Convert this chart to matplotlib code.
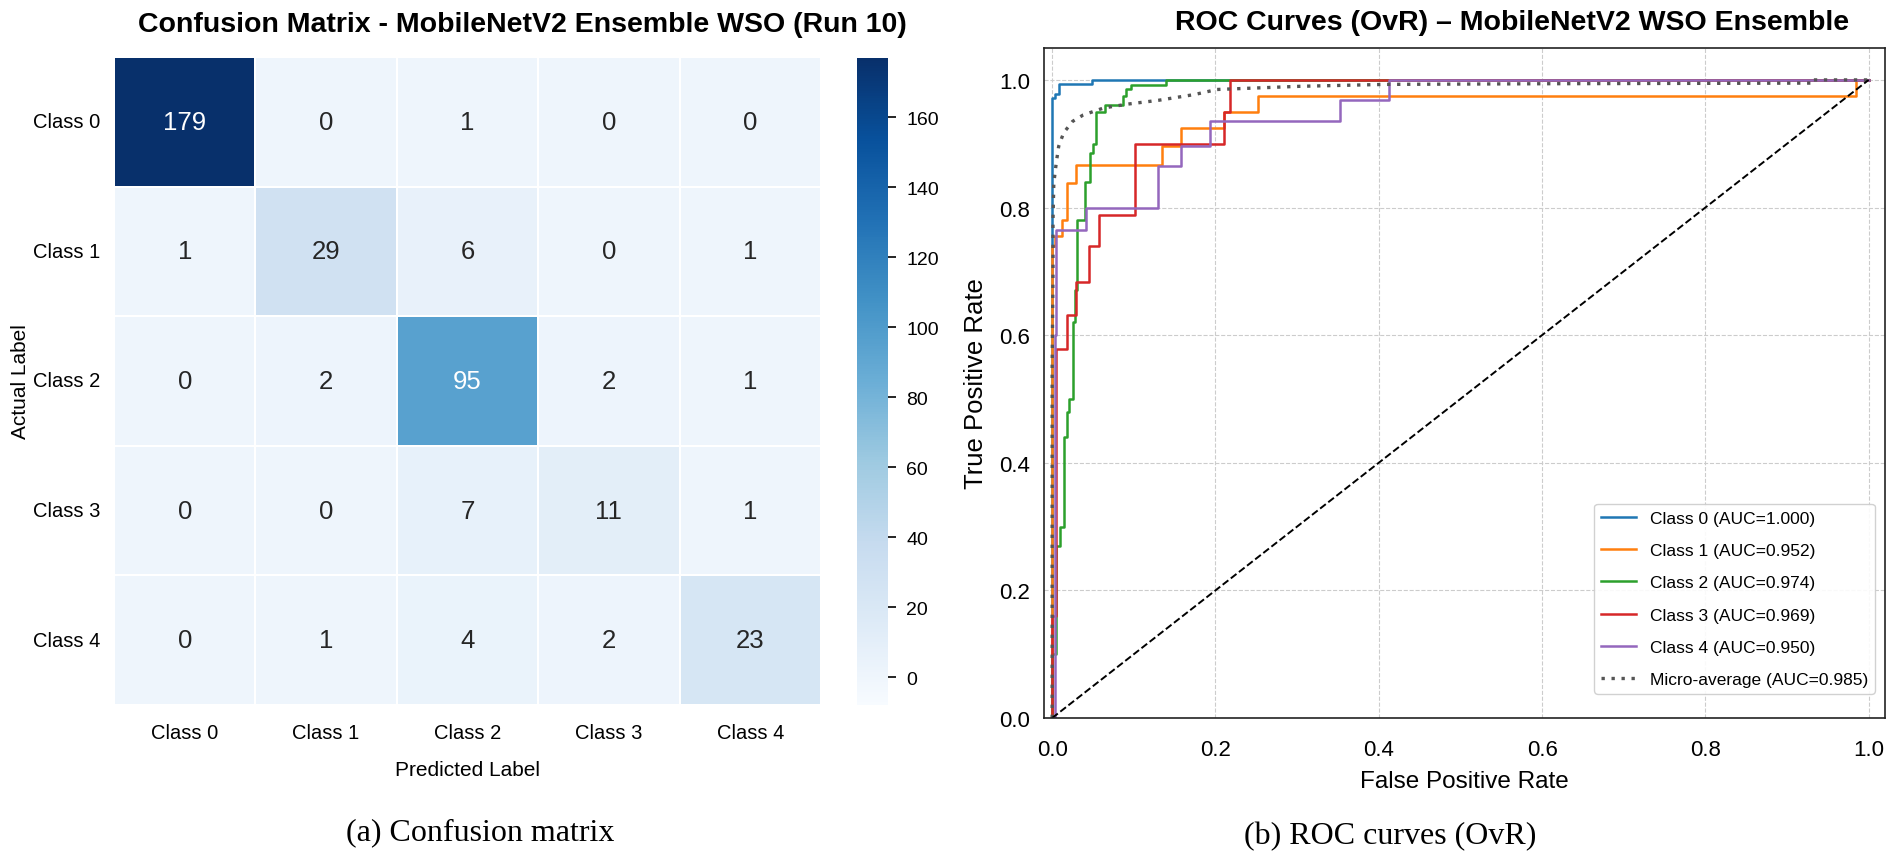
import numpy as np
import matplotlib
matplotlib.use("Agg")
import matplotlib.pyplot as plt
import seaborn as sns

plt.rcParams['font.family'] = ['Liberation Sans', 'DejaVu Sans']

# confusion matrix, run 10
classes = ['Class 0', 'Class 1', 'Class 2', 'Class 3', 'Class 4']
cm = np.array([[179, 0, 1, 0, 0],
               [1, 29, 6, 0, 1],
               [0, 2, 95, 2, 1],
               [0, 0, 7, 11, 1],
               [0, 1, 4, 2, 23]])

# ROC curves
fpr_0 = [0, 0, 0.003, 0.003, 0.008, 0.008, 0.049, 0.049, 1]
tpr_0 = [0, 0.972, 0.972, 0.978, 0.978, 0.994, 0.994, 1.0, 1.0]

fpr_1 = [0, 0, 0.004, 0.004, 0.012, 0.012, 0.018, 0.018, 0.029, 0.029, 0.135, 0.135,
         0.158, 0.158, 0.211, 0.211, 0.252, 0.252, 0.985, 0.985, 1]
tpr_1 = [0, 0.739, 0.739, 0.755, 0.755, 0.781, 0.781, 0.839, 0.839, 0.867, 0.867, 0.897,
         0.897, 0.924, 0.924, 0.950, 0.950, 0.974, 0.974, 1.0, 1.0]

fpr_2 = [0, 0, 0.005, 0.005, 0.010, 0.010, 0.014, 0.014, 0.018, 0.018, 0.021, 0.021,
         0.025, 0.025, 0.028, 0.028, 0.031, 0.031, 0.040, 0.040, 0.046, 0.046, 0.050, 0.050,
         0.054, 0.054, 0.065, 0.065, 0.087, 0.087, 0.090, 0.090, 0.096, 0.096, 0.139, 0.139, 1]
tpr_2 = [0, 0.10, 0.10, 0.27, 0.27, 0.30, 0.30, 0.44, 0.44, 0.48, 0.48, 0.50,
         0.50, 0.62, 0.62, 0.67, 0.67, 0.78, 0.78, 0.84, 0.84, 0.886, 0.886, 0.90,
         0.90, 0.95, 0.95, 0.96, 0.96, 0.975, 0.975, 0.985, 0.985, 0.992, 0.992, 1.0, 1.0]

fpr_3 = [0, 0, 0.005, 0.005, 0.018, 0.018, 0.029, 0.029, 0.045, 0.045, 0.057, 0.057,
         0.101, 0.101, 0.211, 0.211, 0.218, 0.218, 1]
tpr_3 = [0, 0.16, 0.16, 0.579, 0.579, 0.632, 0.632, 0.684, 0.684, 0.739, 0.739, 0.789,
         0.789, 0.899, 0.899, 0.950, 0.950, 1.0, 1.0]

fpr_4 = [0, 0.003, 0.003, 0.005, 0.005, 0.041, 0.041, 0.130, 0.130, 0.158, 0.158,
         0.193, 0.193, 0.353, 0.353, 0.412, 0.412, 1]
tpr_4 = [0, 0, 0.60, 0.60, 0.764, 0.764, 0.80, 0.80, 0.865, 0.865, 0.897,
         0.897, 0.936, 0.936, 0.969, 0.969, 1.0, 1.0]

fpr_micro = [0, 0, 0.001, 0.001, 0.002, 0.005, 0.008, 0.014, 0.025, 0.038, 0.063, 0.092,
             0.13, 0.174, 0.202, 0.304, 0.41, 0.6, 0.93, 0.93, 1]
tpr_micro = [0, 0.55, 0.70, 0.78, 0.838, 0.87, 0.896, 0.917, 0.935, 0.945, 0.956, 0.962,
             0.968, 0.977, 0.985, 0.99, 0.993, 0.994, 0.995, 1.0, 1.0]

auc_vals = [1.000, 0.952, 0.974, 0.969, 0.950]
auc_micro = 0.985

roc_fpr = [fpr_0, fpr_1, fpr_2, fpr_3, fpr_4]
roc_tpr = [tpr_0, tpr_1, tpr_2, tpr_3, tpr_4]
colors = ['#1f77b4', '#ff7f0e', '#2ca02c', '#d62728', '#9467bd']

W, H = 1900, 862
fig = plt.figure(figsize=(W / 100, H / 100), dpi=100)

ax1 = fig.add_axes([114 / W, 1 - 706 / H, 707 / W, 648 / H])
cax = fig.add_axes([857 / W, 1 - 706 / H, 31 / W, 647 / H])
ax2 = fig.add_axes([1044 / W, 1 - 719 / H, 841 / W, 670 / H])

# --- confusion matrix ---
sns.heatmap(cm, annot=True, fmt='d', cmap='Blues', vmin=-8, vmax=177,
            ax=ax1, cbar_ax=cax, xticklabels=classes, yticklabels=classes,
            linewidths=0.2, linecolor='white', annot_kws={'size': 18.5})
ax1.set_title('Confusion Matrix - MobileNetV2 Ensemble WSO (Run 10)',
              fontsize=20.5, fontweight='bold', x=0.578, pad=18.5)
ax1.set_xlabel('Predicted Label', fontsize=15, labelpad=13)
ax1.set_ylabel('Actual Label', fontsize=15, labelpad=2)
ax1.tick_params(axis='both', length=0, labelsize=14.5)
ax1.tick_params(axis='x', pad=13)
ax1.tick_params(axis='y', pad=10)
plt.setp(ax1.get_yticklabels(), rotation=0)

cax.set_yticks(range(0, 161, 20))
cax.tick_params(labelsize=14, length=6, width=1.2, pad=7)

# --- ROC curves ---
for i in range(5):
    ax2.plot(roc_fpr[i], roc_tpr[i], color=colors[i], lw=1.8,
             label=f'{classes[i]} (AUC={auc_vals[i]:.3f})')
ax2.plot(fpr_micro, tpr_micro, linestyle=(0, (1, 2)), color='#555555', lw=2.4,
         label=f'Micro-average (AUC={auc_micro:.3f})')
ax2.plot([0, 1], [0, 1], 'k--', lw=1.4)

ax2.set_xlim(-0.01, 1.02)
ax2.set_ylim(0, 1.05)
ax2.set_xticks(np.arange(0, 1.01, 0.2))
ax2.set_yticks(np.arange(0, 1.01, 0.2))
ax2.grid(True, linestyle='--', color='#cccccc', lw=0.8)
ax2.set_axisbelow(True)
for s in ax2.spines.values():
    s.set_color('#222222')
    s.set_linewidth(1.2)
ax2.tick_params(axis='both', length=0, labelsize=16)
ax2.tick_params(axis='x', pad=15)
ax2.tick_params(axis='y', pad=10)
ax2.set_xlabel('False Positive Rate', fontsize=17.5, labelpad=7)
ax2.set_ylabel('True Positive Rate', fontsize=18.5, labelpad=8)
ax2.set_title('ROC Curves (OvR) – MobileNetV2 WSO Ensemble',
              fontsize=20.5, fontweight='bold', x=0.557, pad=13.5)
ax2.legend(loc='lower right', bbox_to_anchor=(0.988, 0.036), borderaxespad=0,
           fontsize=12.5, framealpha=0.9, edgecolor='#cccccc', labelspacing=0.98)

# sub-captions
fig.text(480 / W, 1 - 833 / H, '(a) Confusion matrix', family=['Liberation Serif'],
         fontsize=23, ha='center', va='center')
fig.text(1390 / W, 1 - 837 / H, '(b) ROC curves (OvR)', family=['Liberation Serif'],
         fontsize=23, ha='center', va='center')

fig.savefig('out.png', dpi=100)
